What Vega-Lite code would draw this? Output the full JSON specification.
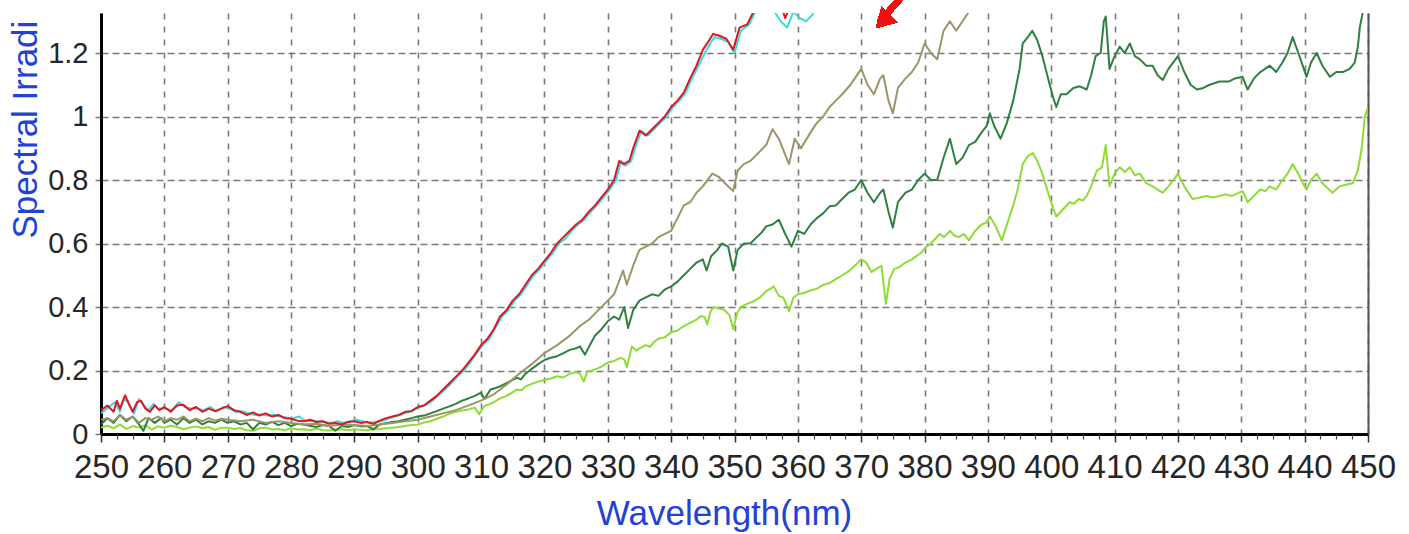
{
"$schema":"https://vega.github.io/schema/vega-lite/v6.json",
"autosize":{"type":"none"},
"padding":{"left":101,"top":13,"right":41,"bottom":100},
"width":1267,"height":421,
"background":"white",
"config":{"view":{"stroke":null}},
"data":{"values":[
{"s":"ltgreen","x":250,"y":0.02},{"s":"ltgreen","x":251,"y":0.026},{"s":"ltgreen","x":252,"y":0.018},{"s":"ltgreen","x":253,"y":0.03},{"s":"ltgreen","x":254,"y":0.016},{"s":"ltgreen","x":255,"y":0.025},{"s":"ltgreen","x":256,"y":0.02},{"s":"ltgreen","x":257,"y":0.028},{"s":"ltgreen","x":258,"y":0.014},{"s":"ltgreen","x":259,"y":0.024},{"s":"ltgreen","x":260,"y":0.02},{"s":"ltgreen","x":261,"y":0.026},{"s":"ltgreen","x":262,"y":0.022},{"s":"ltgreen","x":263,"y":0.015},{"s":"ltgreen","x":264,"y":0.02},{"s":"ltgreen","x":265,"y":0.024},{"s":"ltgreen","x":266,"y":0.018},{"s":"ltgreen","x":267,"y":0.022},{"s":"ltgreen","x":268,"y":0.013},{"s":"ltgreen","x":269,"y":0.02},{"s":"ltgreen","x":270,"y":0.02},{"s":"ltgreen","x":271,"y":0.016},{"s":"ltgreen","x":272,"y":0.019},{"s":"ltgreen","x":273,"y":0.012},{"s":"ltgreen","x":274,"y":0.01},{"s":"ltgreen","x":275,"y":0.018},{"s":"ltgreen","x":276,"y":0.02},{"s":"ltgreen","x":277,"y":0.014},{"s":"ltgreen","x":278,"y":0.016},{"s":"ltgreen","x":279,"y":0.012},{"s":"ltgreen","x":280,"y":0.018},{"s":"ltgreen","x":281,"y":0.014},{"s":"ltgreen","x":282,"y":0.015},{"s":"ltgreen","x":283,"y":0.012},{"s":"ltgreen","x":284,"y":0.017},{"s":"ltgreen","x":285,"y":0.012},{"s":"ltgreen","x":286,"y":0.011},{"s":"ltgreen","x":287,"y":0.014},{"s":"ltgreen","x":288,"y":0.015},{"s":"ltgreen","x":289,"y":0.012},{"s":"ltgreen","x":290,"y":0.015},{"s":"ltgreen","x":291,"y":0.013},{"s":"ltgreen","x":292,"y":0.012},{"s":"ltgreen","x":293,"y":0.014},{"s":"ltgreen","x":294,"y":0.016},{"s":"ltgreen","x":295,"y":0.018},{"s":"ltgreen","x":296,"y":0.02},{"s":"ltgreen","x":297,"y":0.022},{"s":"ltgreen","x":298,"y":0.025},{"s":"ltgreen","x":299,"y":0.028},
{"s":"ltgreen","x":300,"y":0.03},{"s":"ltgreen","x":301,"y":0.036},{"s":"ltgreen","x":302,"y":0.04},{"s":"ltgreen","x":303,"y":0.048},{"s":"ltgreen","x":304,"y":0.055},{"s":"ltgreen","x":305,"y":0.064},{"s":"ltgreen","x":306,"y":0.07},{"s":"ltgreen","x":307,"y":0.074},{"s":"ltgreen","x":308,"y":0.077},{"s":"ltgreen","x":309,"y":0.083},{"s":"ltgreen","x":309.7,"y":0.062},{"s":"ltgreen","x":310.5,"y":0.088},{"s":"ltgreen","x":311.3,"y":0.094},{"s":"ltgreen","x":312,"y":0.1},{"s":"ltgreen","x":313,"y":0.112},{"s":"ltgreen","x":314,"y":0.12},{"s":"ltgreen","x":315,"y":0.132},{"s":"ltgreen","x":315.6,"y":0.14},{"s":"ltgreen","x":316.4,"y":0.138},{"s":"ltgreen","x":317,"y":0.15},{"s":"ltgreen","x":318,"y":0.158},{"s":"ltgreen","x":319,"y":0.165},{"s":"ltgreen","x":320,"y":0.17},{"s":"ltgreen","x":321,"y":0.175},{"s":"ltgreen","x":322,"y":0.182},{"s":"ltgreen","x":323,"y":0.178},{"s":"ltgreen","x":324,"y":0.19},{"s":"ltgreen","x":325,"y":0.195},{"s":"ltgreen","x":325.6,"y":0.19},{"s":"ltgreen","x":326.2,"y":0.165},{"s":"ltgreen","x":326.8,"y":0.198},{"s":"ltgreen","x":327.5,"y":0.2},{"s":"ltgreen","x":328.3,"y":0.206},{"s":"ltgreen","x":329,"y":0.212},{"s":"ltgreen","x":330,"y":0.225},{"s":"ltgreen","x":331,"y":0.23},{"s":"ltgreen","x":332,"y":0.24},{"s":"ltgreen","x":332.6,"y":0.235},{"s":"ltgreen","x":333,"y":0.21},{"s":"ltgreen","x":333.8,"y":0.276},{"s":"ltgreen","x":334.5,"y":0.262},{"s":"ltgreen","x":335,"y":0.27},{"s":"ltgreen","x":336,"y":0.28},{"s":"ltgreen","x":336.7,"y":0.275},{"s":"ltgreen","x":337.3,"y":0.29},{"s":"ltgreen","x":338,"y":0.3},{"s":"ltgreen","x":339,"y":0.305},{"s":"ltgreen","x":340,"y":0.32},{"s":"ltgreen","x":341,"y":0.326},{"s":"ltgreen","x":342,"y":0.34},{"s":"ltgreen","x":343,"y":0.35},{"s":"ltgreen","x":344,"y":0.36},{"s":"ltgreen","x":344.7,"y":0.372},{"s":"ltgreen","x":345.3,"y":0.368},{"s":"ltgreen","x":345.7,"y":0.345},{"s":"ltgreen","x":346.2,"y":0.385},{"s":"ltgreen","x":346.7,"y":0.4},{"s":"ltgreen","x":347.5,"y":0.395},{"s":"ltgreen","x":348.3,"y":0.392},{"s":"ltgreen","x":349.2,"y":0.375},{"s":"ltgreen","x":349.8,"y":0.33},{"s":"ltgreen","x":350.4,"y":0.38},{"s":"ltgreen","x":351,"y":0.4},{"s":"ltgreen","x":352,"y":0.41},{"s":"ltgreen","x":353,"y":0.418},{"s":"ltgreen","x":354,"y":0.43},{"s":"ltgreen","x":355,"y":0.45},{"s":"ltgreen","x":355.7,"y":0.458},{"s":"ltgreen","x":356.2,"y":0.465},{"s":"ltgreen","x":357,"y":0.435},{"s":"ltgreen","x":357.7,"y":0.43},{"s":"ltgreen","x":358.6,"y":0.386},{"s":"ltgreen","x":359.3,"y":0.43},{"s":"ltgreen","x":360,"y":0.44},{"s":"ltgreen","x":361,"y":0.445},{"s":"ltgreen","x":362,"y":0.452},{"s":"ltgreen","x":363,"y":0.458},{"s":"ltgreen","x":364,"y":0.47},{"s":"ltgreen","x":365,"y":0.475},{"s":"ltgreen","x":366,"y":0.488},{"s":"ltgreen","x":367,"y":0.5},{"s":"ltgreen","x":368,"y":0.512},{"s":"ltgreen","x":369,"y":0.53},{"s":"ltgreen","x":370,"y":0.55},{"s":"ltgreen","x":370.8,"y":0.54},{"s":"ltgreen","x":371.6,"y":0.51},{"s":"ltgreen","x":372.4,"y":0.52},{"s":"ltgreen","x":373.2,"y":0.53},{"s":"ltgreen","x":373.9,"y":0.41},{"s":"ltgreen","x":374.5,"y":0.49},{"s":"ltgreen","x":375.2,"y":0.52},{"s":"ltgreen","x":376,"y":0.525},{"s":"ltgreen","x":377,"y":0.54},{"s":"ltgreen","x":378,"y":0.55},{"s":"ltgreen","x":379.4,"y":0.57},{"s":"ltgreen","x":380.3,"y":0.59},{"s":"ltgreen","x":381,"y":0.6},{"s":"ltgreen","x":381.7,"y":0.615},{"s":"ltgreen","x":382.4,"y":0.63},{"s":"ltgreen","x":383.1,"y":0.62},{"s":"ltgreen","x":384,"y":0.64},{"s":"ltgreen","x":384.7,"y":0.625},{"s":"ltgreen","x":385.4,"y":0.62},{"s":"ltgreen","x":386.2,"y":0.63},{"s":"ltgreen","x":387,"y":0.61},{"s":"ltgreen","x":388,"y":0.64},{"s":"ltgreen","x":389,"y":0.66},{"s":"ltgreen","x":389.7,"y":0.665},{"s":"ltgreen","x":390.3,"y":0.685},{"s":"ltgreen","x":391.2,"y":0.655},{"s":"ltgreen","x":392.2,"y":0.61},{"s":"ltgreen","x":393,"y":0.66},{"s":"ltgreen","x":394,"y":0.72},{"s":"ltgreen","x":394.7,"y":0.77},{"s":"ltgreen","x":395.5,"y":0.85},{"s":"ltgreen","x":396.3,"y":0.875},{"s":"ltgreen","x":397.1,"y":0.885},{"s":"ltgreen","x":397.8,"y":0.86},{"s":"ltgreen","x":398.6,"y":0.82},{"s":"ltgreen","x":399.5,"y":0.76},{"s":"ltgreen","x":400.3,"y":0.71},{"s":"ltgreen","x":400.8,"y":0.685},{"s":"ltgreen","x":401.5,"y":0.7},{"s":"ltgreen","x":402.2,"y":0.715},{"s":"ltgreen","x":402.9,"y":0.73},{"s":"ltgreen","x":403.6,"y":0.725},{"s":"ltgreen","x":404.3,"y":0.74},{"s":"ltgreen","x":405,"y":0.735},{"s":"ltgreen","x":405.6,"y":0.75},{"s":"ltgreen","x":406.3,"y":0.78},{"s":"ltgreen","x":407.2,"y":0.83},{"s":"ltgreen","x":408,"y":0.84},{"s":"ltgreen","x":408.6,"y":0.91},{"s":"ltgreen","x":409.2,"y":0.78},{"s":"ltgreen","x":410,"y":0.82},{"s":"ltgreen","x":410.8,"y":0.84},{"s":"ltgreen","x":411.6,"y":0.825},{"s":"ltgreen","x":412.4,"y":0.84},{"s":"ltgreen","x":413.2,"y":0.815},{"s":"ltgreen","x":414,"y":0.82},{"s":"ltgreen","x":415,"y":0.79},{"s":"ltgreen","x":416,"y":0.78},{"s":"ltgreen","x":416.8,"y":0.77},{"s":"ltgreen","x":417.6,"y":0.76},{"s":"ltgreen","x":418.5,"y":0.78},{"s":"ltgreen","x":419.3,"y":0.8},{"s":"ltgreen","x":420,"y":0.82},{"s":"ltgreen","x":421,"y":0.78},{"s":"ltgreen","x":422.3,"y":0.74},{"s":"ltgreen","x":423.5,"y":0.745},{"s":"ltgreen","x":424.5,"y":0.75},{"s":"ltgreen","x":425.5,"y":0.745},{"s":"ltgreen","x":426.6,"y":0.75},{"s":"ltgreen","x":427.5,"y":0.755},{"s":"ltgreen","x":428.5,"y":0.75},{"s":"ltgreen","x":429.4,"y":0.758},{"s":"ltgreen","x":430.2,"y":0.765},{"s":"ltgreen","x":431,"y":0.73},{"s":"ltgreen","x":432,"y":0.75},{"s":"ltgreen","x":433,"y":0.77},{"s":"ltgreen","x":433.8,"y":0.765},{"s":"ltgreen","x":434.5,"y":0.78},{"s":"ltgreen","x":435.5,"y":0.77},{"s":"ltgreen","x":436.5,"y":0.8},{"s":"ltgreen","x":437.3,"y":0.82},{"s":"ltgreen","x":438.1,"y":0.85},{"s":"ltgreen","x":439,"y":0.82},{"s":"ltgreen","x":439.7,"y":0.79},{"s":"ltgreen","x":440.3,"y":0.77},{"s":"ltgreen","x":441,"y":0.8},{"s":"ltgreen","x":441.9,"y":0.82},{"s":"ltgreen","x":442.8,"y":0.79},{"s":"ltgreen","x":443.6,"y":0.775},{"s":"ltgreen","x":444.4,"y":0.76},{"s":"ltgreen","x":445.5,"y":0.78},{"s":"ltgreen","x":446.5,"y":0.785},{"s":"ltgreen","x":447.6,"y":0.79},{"s":"ltgreen","x":448.4,"y":0.83},{"s":"ltgreen","x":449,"y":0.9},{"s":"ltgreen","x":449.5,"y":1.0},{"s":"ltgreen","x":450,"y":1.03},
{"s":"dkgreen","x":250,"y":0.03},{"s":"dkgreen","x":251,"y":0.05},{"s":"dkgreen","x":252,"y":0.035},{"s":"dkgreen","x":253,"y":0.06},{"s":"dkgreen","x":254,"y":0.04},{"s":"dkgreen","x":255,"y":0.055},{"s":"dkgreen","x":256,"y":0.03},{"s":"dkgreen","x":256.7,"y":0.01},{"s":"dkgreen","x":257.5,"y":0.05},{"s":"dkgreen","x":258.5,"y":0.035},{"s":"dkgreen","x":259.5,"y":0.05},{"s":"dkgreen","x":260,"y":0.035},{"s":"dkgreen","x":261,"y":0.045},{"s":"dkgreen","x":262,"y":0.03},{"s":"dkgreen","x":263,"y":0.05},{"s":"dkgreen","x":264,"y":0.035},{"s":"dkgreen","x":265,"y":0.045},{"s":"dkgreen","x":266,"y":0.03},{"s":"dkgreen","x":267,"y":0.04},{"s":"dkgreen","x":268,"y":0.035},{"s":"dkgreen","x":269,"y":0.045},{"s":"dkgreen","x":270,"y":0.035},{"s":"dkgreen","x":271,"y":0.04},{"s":"dkgreen","x":272,"y":0.03},{"s":"dkgreen","x":273,"y":0.035},{"s":"dkgreen","x":274,"y":0.015},{"s":"dkgreen","x":275,"y":0.035},{"s":"dkgreen","x":276,"y":0.03},{"s":"dkgreen","x":277,"y":0.038},{"s":"dkgreen","x":278,"y":0.028},{"s":"dkgreen","x":279,"y":0.035},{"s":"dkgreen","x":280,"y":0.025},{"s":"dkgreen","x":281,"y":0.032},{"s":"dkgreen","x":282,"y":0.03},{"s":"dkgreen","x":283,"y":0.026},{"s":"dkgreen","x":284,"y":0.022},{"s":"dkgreen","x":285,"y":0.028},{"s":"dkgreen","x":286,"y":0.025},{"s":"dkgreen","x":287,"y":0.01},{"s":"dkgreen","x":288,"y":0.025},{"s":"dkgreen","x":289,"y":0.022},{"s":"dkgreen","x":290,"y":0.028},{"s":"dkgreen","x":291,"y":0.024},{"s":"dkgreen","x":292,"y":0.025},{"s":"dkgreen","x":293,"y":0.015},{"s":"dkgreen","x":294,"y":0.03},{"s":"dkgreen","x":295,"y":0.034},{"s":"dkgreen","x":296,"y":0.038},{"s":"dkgreen","x":297,"y":0.04},{"s":"dkgreen","x":298,"y":0.045},{"s":"dkgreen","x":299,"y":0.05},{"s":"dkgreen","x":300,"y":0.055},{"s":"dkgreen","x":301,"y":0.058},{"s":"dkgreen","x":302,"y":0.065},{"s":"dkgreen","x":303,"y":0.072},{"s":"dkgreen","x":304,"y":0.08},{"s":"dkgreen","x":305,"y":0.087},{"s":"dkgreen","x":306,"y":0.095},{"s":"dkgreen","x":307,"y":0.105},{"s":"dkgreen","x":308,"y":0.112},{"s":"dkgreen","x":309,"y":0.12},{"s":"dkgreen","x":310,"y":0.13},{"s":"dkgreen","x":310.5,"y":0.11},{"s":"dkgreen","x":311.5,"y":0.14},{"s":"dkgreen","x":312.3,"y":0.145},{"s":"dkgreen","x":313,"y":0.15},{"s":"dkgreen","x":314,"y":0.16},{"s":"dkgreen","x":315.6,"y":0.177},{"s":"dkgreen","x":316.3,"y":0.172},{"s":"dkgreen","x":317,"y":0.19},{"s":"dkgreen","x":318,"y":0.205},{"s":"dkgreen","x":319,"y":0.22},{"s":"dkgreen","x":320,"y":0.233},{"s":"dkgreen","x":321,"y":0.24},{"s":"dkgreen","x":322,"y":0.245},{"s":"dkgreen","x":323,"y":0.255},{"s":"dkgreen","x":324,"y":0.265},{"s":"dkgreen","x":325,"y":0.27},{"s":"dkgreen","x":325.6,"y":0.276},{"s":"dkgreen","x":326.4,"y":0.25},{"s":"dkgreen","x":327.3,"y":0.285},{"s":"dkgreen","x":328,"y":0.31},{"s":"dkgreen","x":329,"y":0.33},{"s":"dkgreen","x":330,"y":0.355},{"s":"dkgreen","x":331,"y":0.37},{"s":"dkgreen","x":331.8,"y":0.36},{"s":"dkgreen","x":332.6,"y":0.4},{"s":"dkgreen","x":333.2,"y":0.334},{"s":"dkgreen","x":334,"y":0.39},{"s":"dkgreen","x":335,"y":0.42},{"s":"dkgreen","x":336,"y":0.43},{"s":"dkgreen","x":337,"y":0.44},{"s":"dkgreen","x":338,"y":0.435},{"s":"dkgreen","x":339,"y":0.455},{"s":"dkgreen","x":340,"y":0.465},{"s":"dkgreen","x":341,"y":0.48},{"s":"dkgreen","x":342,"y":0.5},{"s":"dkgreen","x":343,"y":0.52},{"s":"dkgreen","x":344,"y":0.54},{"s":"dkgreen","x":345,"y":0.55},{"s":"dkgreen","x":345.6,"y":0.515},{"s":"dkgreen","x":346.3,"y":0.56},{"s":"dkgreen","x":347.3,"y":0.58},{"s":"dkgreen","x":348,"y":0.6},{"s":"dkgreen","x":349,"y":0.59},{"s":"dkgreen","x":349.8,"y":0.515},{"s":"dkgreen","x":350.5,"y":0.58},{"s":"dkgreen","x":351.5,"y":0.6},{"s":"dkgreen","x":352.5,"y":0.6},{"s":"dkgreen","x":353.5,"y":0.62},{"s":"dkgreen","x":354.3,"y":0.635},{"s":"dkgreen","x":355,"y":0.654},{"s":"dkgreen","x":356,"y":0.66},{"s":"dkgreen","x":357,"y":0.675},{"s":"dkgreen","x":358,"y":0.63},{"s":"dkgreen","x":359,"y":0.59},{"s":"dkgreen","x":360,"y":0.64},{"s":"dkgreen","x":361,"y":0.63},{"s":"dkgreen","x":362,"y":0.66},{"s":"dkgreen","x":363,"y":0.68},{"s":"dkgreen","x":364,"y":0.695},{"s":"dkgreen","x":365,"y":0.717},{"s":"dkgreen","x":366,"y":0.72},{"s":"dkgreen","x":367,"y":0.74},{"s":"dkgreen","x":368,"y":0.76},{"s":"dkgreen","x":369,"y":0.77},{"s":"dkgreen","x":370,"y":0.8},{"s":"dkgreen","x":371,"y":0.76},{"s":"dkgreen","x":372,"y":0.73},{"s":"dkgreen","x":373,"y":0.76},{"s":"dkgreen","x":373.5,"y":0.77},{"s":"dkgreen","x":374.3,"y":0.7},{"s":"dkgreen","x":375,"y":0.65},{"s":"dkgreen","x":375.8,"y":0.73},{"s":"dkgreen","x":377,"y":0.76},{"s":"dkgreen","x":378,"y":0.77},{"s":"dkgreen","x":379,"y":0.8},{"s":"dkgreen","x":380,"y":0.82},{"s":"dkgreen","x":381,"y":0.8},{"s":"dkgreen","x":382,"y":0.8},{"s":"dkgreen","x":383,"y":0.87},{"s":"dkgreen","x":384,"y":0.93},{"s":"dkgreen","x":385,"y":0.85},{"s":"dkgreen","x":386,"y":0.87},{"s":"dkgreen","x":387,"y":0.91},{"s":"dkgreen","x":388,"y":0.92},{"s":"dkgreen","x":389,"y":0.95},{"s":"dkgreen","x":389.8,"y":0.97},{"s":"dkgreen","x":390.3,"y":1.01},{"s":"dkgreen","x":391,"y":0.97},{"s":"dkgreen","x":392,"y":0.93},{"s":"dkgreen","x":393,"y":0.98},{"s":"dkgreen","x":394,"y":1.05},{"s":"dkgreen","x":395,"y":1.15},{"s":"dkgreen","x":395.5,"y":1.23},{"s":"dkgreen","x":396.3,"y":1.25},{"s":"dkgreen","x":397,"y":1.27},{"s":"dkgreen","x":397.8,"y":1.24},{"s":"dkgreen","x":398.6,"y":1.19},{"s":"dkgreen","x":399.5,"y":1.12},{"s":"dkgreen","x":400.3,"y":1.06},{"s":"dkgreen","x":400.8,"y":1.03},{"s":"dkgreen","x":401.5,"y":1.07},{"s":"dkgreen","x":402.4,"y":1.07},{"s":"dkgreen","x":403.5,"y":1.09},{"s":"dkgreen","x":404.5,"y":1.095},{"s":"dkgreen","x":405.6,"y":1.085},{"s":"dkgreen","x":406.3,"y":1.13},{"s":"dkgreen","x":407,"y":1.19},{"s":"dkgreen","x":407.8,"y":1.2},{"s":"dkgreen","x":408.3,"y":1.3},{"s":"dkgreen","x":408.6,"y":1.315},{"s":"dkgreen","x":409.2,"y":1.15},{"s":"dkgreen","x":410,"y":1.19},{"s":"dkgreen","x":410.8,"y":1.22},{"s":"dkgreen","x":411.6,"y":1.2},{"s":"dkgreen","x":412.4,"y":1.23},{"s":"dkgreen","x":413.2,"y":1.19},{"s":"dkgreen","x":414,"y":1.18},{"s":"dkgreen","x":415,"y":1.16},{"s":"dkgreen","x":416,"y":1.16},{"s":"dkgreen","x":416.8,"y":1.13},{"s":"dkgreen","x":417.6,"y":1.115},{"s":"dkgreen","x":418.5,"y":1.15},{"s":"dkgreen","x":420,"y":1.19},{"s":"dkgreen","x":421,"y":1.14},{"s":"dkgreen","x":422,"y":1.1},{"s":"dkgreen","x":423,"y":1.085},{"s":"dkgreen","x":424,"y":1.09},{"s":"dkgreen","x":425,"y":1.1},{"s":"dkgreen","x":426.6,"y":1.11},{"s":"dkgreen","x":428,"y":1.11},{"s":"dkgreen","x":429,"y":1.12},{"s":"dkgreen","x":430.2,"y":1.125},{"s":"dkgreen","x":431,"y":1.085},{"s":"dkgreen","x":432,"y":1.12},{"s":"dkgreen","x":433,"y":1.14},{"s":"dkgreen","x":434.5,"y":1.16},{"s":"dkgreen","x":435.5,"y":1.14},{"s":"dkgreen","x":436.5,"y":1.17},{"s":"dkgreen","x":437.3,"y":1.2},{"s":"dkgreen","x":438.1,"y":1.25},{"s":"dkgreen","x":439,"y":1.2},{"s":"dkgreen","x":439.7,"y":1.16},{"s":"dkgreen","x":440.3,"y":1.125},{"s":"dkgreen","x":441,"y":1.17},{"s":"dkgreen","x":441.9,"y":1.2},{"s":"dkgreen","x":442.8,"y":1.16},{"s":"dkgreen","x":444,"y":1.125},{"s":"dkgreen","x":445,"y":1.14},{"s":"dkgreen","x":446,"y":1.14},{"s":"dkgreen","x":447.1,"y":1.15},{"s":"dkgreen","x":447.9,"y":1.17},{"s":"dkgreen","x":448.4,"y":1.22},{"s":"dkgreen","x":448.7,"y":1.28},{"s":"dkgreen","x":449.2,"y":1.33},{"s":"dkgreen","x":449.6,"y":1.4},{"s":"dkgreen","x":450,"y":1.5},
{"s":"olive","x":250,"y":0.045},{"s":"olive","x":251,"y":0.05},{"s":"olive","x":252,"y":0.04},{"s":"olive","x":253,"y":0.06},{"s":"olive","x":254,"y":0.045},{"s":"olive","x":255,"y":0.055},{"s":"olive","x":256,"y":0.035},{"s":"olive","x":257,"y":0.05},{"s":"olive","x":258,"y":0.045},{"s":"olive","x":259,"y":0.055},{"s":"olive","x":260,"y":0.04},{"s":"olive","x":261,"y":0.05},{"s":"olive","x":262,"y":0.045},{"s":"olive","x":263,"y":0.055},{"s":"olive","x":264,"y":0.04},{"s":"olive","x":265,"y":0.048},{"s":"olive","x":266,"y":0.04},{"s":"olive","x":267,"y":0.05},{"s":"olive","x":268,"y":0.042},{"s":"olive","x":269,"y":0.048},{"s":"olive","x":270,"y":0.045},{"s":"olive","x":272,"y":0.04},{"s":"olive","x":274,"y":0.045},{"s":"olive","x":276,"y":0.035},{"s":"olive","x":278,"y":0.04},{"s":"olive","x":280,"y":0.035},{"s":"olive","x":282,"y":0.03},{"s":"olive","x":284,"y":0.032},{"s":"olive","x":286,"y":0.025},{"s":"olive","x":288,"y":0.03},{"s":"olive","x":290,"y":0.028},{"s":"olive","x":292,"y":0.025},{"s":"olive","x":294,"y":0.03},{"s":"olive","x":296,"y":0.035},{"s":"olive","x":298,"y":0.04},{"s":"olive","x":300,"y":0.045},{"s":"olive","x":302,"y":0.055},{"s":"olive","x":304,"y":0.065},{"s":"olive","x":306,"y":0.075},{"s":"olive","x":308,"y":0.09},{"s":"olive","x":310,"y":0.105},{"s":"olive","x":312,"y":0.125},{"s":"olive","x":314,"y":0.155},{"s":"olive","x":316,"y":0.19},{"s":"olive","x":318,"y":0.22},{"s":"olive","x":320,"y":0.255},{"s":"olive","x":322,"y":0.28},{"s":"olive","x":324,"y":0.31},{"s":"olive","x":325.6,"y":0.34},{"s":"olive","x":327,"y":0.36},{"s":"olive","x":328,"y":0.38},{"s":"olive","x":329,"y":0.4},{"s":"olive","x":330,"y":0.42},{"s":"olive","x":331,"y":0.44},{"s":"olive","x":332.4,"y":0.515},{"s":"olive","x":333,"y":0.47},{"s":"olive","x":334,"y":0.53},{"s":"olive","x":335,"y":0.58},{"s":"olive","x":336,"y":0.59},{"s":"olive","x":337,"y":0.6},{"s":"olive","x":338,"y":0.62},{"s":"olive","x":339,"y":0.63},{"s":"olive","x":340,"y":0.64},{"s":"olive","x":341,"y":0.68},{"s":"olive","x":342,"y":0.72},{"s":"olive","x":343,"y":0.73},{"s":"olive","x":344,"y":0.76},{"s":"olive","x":345,"y":0.78},{"s":"olive","x":346.5,"y":0.82},{"s":"olive","x":347.5,"y":0.81},{"s":"olive","x":348.5,"y":0.79},{"s":"olive","x":349.8,"y":0.765},{"s":"olive","x":350.5,"y":0.83},{"s":"olive","x":351.5,"y":0.85},{"s":"olive","x":352.5,"y":0.86},{"s":"olive","x":353.5,"y":0.88},{"s":"olive","x":355,"y":0.91},{"s":"olive","x":356,"y":0.96},{"s":"olive","x":357,"y":0.93},{"s":"olive","x":358,"y":0.88},{"s":"olive","x":358.6,"y":0.85},{"s":"olive","x":359.5,"y":0.93},{"s":"olive","x":360.5,"y":0.9},{"s":"olive","x":362,"y":0.95},{"s":"olive","x":363,"y":0.98},{"s":"olive","x":364,"y":1.0},{"s":"olive","x":365,"y":1.03},{"s":"olive","x":366,"y":1.05},{"s":"olive","x":367,"y":1.07},{"s":"olive","x":368.3,"y":1.1},{"s":"olive","x":369,"y":1.12},{"s":"olive","x":370,"y":1.15},{"s":"olive","x":371,"y":1.1},{"s":"olive","x":372,"y":1.07},{"s":"olive","x":373,"y":1.12},{"s":"olive","x":373.5,"y":1.13},{"s":"olive","x":374.3,"y":1.05},{"s":"olive","x":375,"y":1.01},{"s":"olive","x":375.8,"y":1.09},{"s":"olive","x":377,"y":1.12},{"s":"olive","x":378,"y":1.14},{"s":"olive","x":379,"y":1.17},{"s":"olive","x":380,"y":1.23},{"s":"olive","x":381,"y":1.2},{"s":"olive","x":382,"y":1.18},{"s":"olive","x":383,"y":1.27},{"s":"olive","x":384,"y":1.3},{"s":"olive","x":385,"y":1.27},{"s":"olive","x":386,"y":1.3},{"s":"olive","x":387,"y":1.33},{"s":"olive","x":388,"y":1.36},{"s":"olive","x":390,"y":1.42},{"s":"olive","x":395,"y":1.6},{"s":"olive","x":397,"y":1.8},{"s":"olive","x":400,"y":1.7},{"s":"olive","x":410,"y":1.9},{"s":"olive","x":450,"y":2.2},
{"s":"cyan","x":250,"y":0.065},{"s":"cyan","x":251.2,"y":0.085},{"s":"cyan","x":252.2,"y":0.1},{"s":"cyan","x":253,"y":0.07},{"s":"cyan","x":253.6,"y":0.11},{"s":"cyan","x":254.3,"y":0.1},{"s":"cyan","x":255.2,"y":0.065},{"s":"cyan","x":256,"y":0.11},{"s":"cyan","x":256.8,"y":0.09},{"s":"cyan","x":257.5,"y":0.075},{"s":"cyan","x":258.3,"y":0.095},{"s":"cyan","x":259,"y":0.08},{"s":"cyan","x":260.2,"y":0.08},{"s":"cyan","x":261.2,"y":0.075},{"s":"cyan","x":262.3,"y":0.1},{"s":"cyan","x":263.2,"y":0.085},{"s":"cyan","x":264.2,"y":0.08},{"s":"cyan","x":265.3,"y":0.08},{"s":"cyan","x":266.2,"y":0.075},{"s":"cyan","x":267.3,"y":0.085},{"s":"cyan","x":268.2,"y":0.07},{"s":"cyan","x":269.3,"y":0.085},{"s":"cyan","x":270.3,"y":0.08},{"s":"cyan","x":271.3,"y":0.07},{"s":"cyan","x":272.3,"y":0.072},{"s":"cyan","x":273.3,"y":0.065},{"s":"cyan","x":274.3,"y":0.06},{"s":"cyan","x":275.3,"y":0.062},{"s":"cyan","x":276.3,"y":0.058},{"s":"cyan","x":277.3,"y":0.06},{"s":"cyan","x":278.3,"y":0.055},{"s":"cyan","x":279.3,"y":0.052},{"s":"cyan","x":280.3,"y":0.05},{"s":"cyan","x":281.3,"y":0.055},{"s":"cyan","x":282.3,"y":0.04},{"s":"cyan","x":283.3,"y":0.042},{"s":"cyan","x":284.3,"y":0.04},{"s":"cyan","x":285.3,"y":0.038},{"s":"cyan","x":286.3,"y":0.035},{"s":"cyan","x":287.3,"y":0.04},{"s":"cyan","x":288.3,"y":0.035},{"s":"cyan","x":289.3,"y":0.04},{"s":"cyan","x":290.3,"y":0.045},{"s":"cyan","x":291.3,"y":0.04},{"s":"cyan","x":292.3,"y":0.035},{"s":"cyan","x":293.3,"y":0.038},{"s":"cyan","x":294.3,"y":0.04},{"s":"cyan","x":295.3,"y":0.048},{"s":"cyan","x":296.3,"y":0.055},{"s":"cyan","x":297.3,"y":0.06},{"s":"cyan","x":298.3,"y":0.068},{"s":"cyan","x":299.3,"y":0.075},{"s":"cyan","x":300.3,"y":0.085},{"s":"cyan","x":301.3,"y":0.092},{"s":"cyan","x":302.3,"y":0.105},{"s":"cyan","x":303.3,"y":0.122},{"s":"cyan","x":304.3,"y":0.14},{"s":"cyan","x":305.3,"y":0.16},{"s":"cyan","x":306.3,"y":0.182},{"s":"cyan","x":307.3,"y":0.2},{"s":"cyan","x":308.3,"y":0.225},{"s":"cyan","x":309.3,"y":0.255},{"s":"cyan","x":310.3,"y":0.28},{"s":"cyan","x":311.3,"y":0.3},{"s":"cyan","x":312.3,"y":0.335},{"s":"cyan","x":313.3,"y":0.37},{"s":"cyan","x":314.3,"y":0.39},{"s":"cyan","x":315.3,"y":0.42},{"s":"cyan","x":316.3,"y":0.44},{"s":"cyan","x":317.3,"y":0.47},{"s":"cyan","x":318.3,"y":0.5},{"s":"cyan","x":319.3,"y":0.52},{"s":"cyan","x":320.3,"y":0.545},{"s":"cyan","x":321.3,"y":0.57},{"s":"cyan","x":322.3,"y":0.6},{"s":"cyan","x":323.3,"y":0.615},{"s":"cyan","x":324.3,"y":0.64},{"s":"cyan","x":325.3,"y":0.66},{"s":"cyan","x":326.3,"y":0.675},{"s":"cyan","x":327.3,"y":0.7},{"s":"cyan","x":328.3,"y":0.72},{"s":"cyan","x":329.3,"y":0.745},{"s":"cyan","x":330.3,"y":0.77},{"s":"cyan","x":331.3,"y":0.8},{"s":"cyan","x":332.1,"y":0.86},{"s":"cyan","x":332.8,"y":0.845},{"s":"cyan","x":333.7,"y":0.86},{"s":"cyan","x":334.3,"y":0.9},{"s":"cyan","x":335.3,"y":0.955},{"s":"cyan","x":336.3,"y":0.94},{"s":"cyan","x":337.3,"y":0.96},{"s":"cyan","x":338.3,"y":0.98},{"s":"cyan","x":339.3,"y":1.0},{"s":"cyan","x":340.3,"y":1.03},{"s":"cyan","x":341.3,"y":1.05},{"s":"cyan","x":342.3,"y":1.075},{"s":"cyan","x":343.3,"y":1.12},{"s":"cyan","x":344.3,"y":1.16},{"s":"cyan","x":345.3,"y":1.2},{"s":"cyan","x":346.3,"y":1.235},{"s":"cyan","x":346.9,"y":1.25},{"s":"cyan","x":347.8,"y":1.245},{"s":"cyan","x":349,"y":1.235},{"s":"cyan","x":350,"y":1.2},{"s":"cyan","x":351,"y":1.27},{"s":"cyan","x":352.3,"y":1.29},{"s":"cyan","x":353.3,"y":1.33},{"s":"cyan","x":354.3,"y":1.36},{"s":"cyan","x":355.3,"y":1.37},{"s":"cyan","x":356.3,"y":1.33},{"s":"cyan","x":357.3,"y":1.3},{"s":"cyan","x":358.3,"y":1.28},{"s":"cyan","x":359.3,"y":1.33},{"s":"cyan","x":360.3,"y":1.31},{"s":"cyan","x":361.3,"y":1.3},{"s":"cyan","x":362.3,"y":1.32},{"s":"cyan","x":363.3,"y":1.39},{"s":"cyan","x":365.3,"y":1.45},{"s":"cyan","x":370.3,"y":1.55},{"s":"cyan","x":380,"y":1.75},{"s":"cyan","x":390,"y":1.95},{"s":"cyan","x":400,"y":2.3},{"s":"cyan","x":450,"y":2.8},
{"s":"red","x":250,"y":0.075},{"s":"red","x":251,"y":0.09},{"s":"red","x":252,"y":0.07},{"s":"red","x":252.5,"y":0.105},{"s":"red","x":253,"y":0.08},{"s":"red","x":253.8,"y":0.122},{"s":"red","x":254.5,"y":0.09},{"s":"red","x":255,"y":0.07},{"s":"red","x":255.7,"y":0.1},{"s":"red","x":256.3,"y":0.105},{"s":"red","x":257,"y":0.08},{"s":"red","x":257.7,"y":0.07},{"s":"red","x":258.5,"y":0.09},{"s":"red","x":259.2,"y":0.075},{"s":"red","x":260,"y":0.085},{"s":"red","x":261,"y":0.07},{"s":"red","x":262,"y":0.09},{"s":"red","x":263,"y":0.092},{"s":"red","x":264,"y":0.075},{"s":"red","x":265,"y":0.085},{"s":"red","x":266,"y":0.07},{"s":"red","x":267,"y":0.08},{"s":"red","x":268,"y":0.072},{"s":"red","x":269,"y":0.08},{"s":"red","x":270,"y":0.088},{"s":"red","x":271,"y":0.075},{"s":"red","x":272,"y":0.07},{"s":"red","x":273,"y":0.06},{"s":"red","x":274,"y":0.068},{"s":"red","x":275,"y":0.058},{"s":"red","x":276,"y":0.065},{"s":"red","x":277,"y":0.055},{"s":"red","x":278,"y":0.06},{"s":"red","x":279,"y":0.05},{"s":"red","x":280,"y":0.048},{"s":"red","x":281,"y":0.042},{"s":"red","x":282,"y":0.04},{"s":"red","x":283,"y":0.045},{"s":"red","x":284,"y":0.038},{"s":"red","x":285,"y":0.04},{"s":"red","x":286,"y":0.032},{"s":"red","x":287,"y":0.035},{"s":"red","x":288,"y":0.03},{"s":"red","x":289,"y":0.038},{"s":"red","x":290,"y":0.04},{"s":"red","x":291,"y":0.035},{"s":"red","x":292,"y":0.038},{"s":"red","x":293,"y":0.032},{"s":"red","x":294,"y":0.042},{"s":"red","x":295,"y":0.05},{"s":"red","x":296,"y":0.055},{"s":"red","x":297,"y":0.06},{"s":"red","x":298,"y":0.07},{"s":"red","x":299,"y":0.072},{"s":"red","x":300,"y":0.085},{"s":"red","x":301,"y":0.09},{"s":"red","x":302,"y":0.105},{"s":"red","x":303,"y":0.12},{"s":"red","x":304,"y":0.14},{"s":"red","x":305,"y":0.16},{"s":"red","x":306,"y":0.18},{"s":"red","x":307,"y":0.2},{"s":"red","x":308,"y":0.225},{"s":"red","x":309,"y":0.25},{"s":"red","x":310,"y":0.28},{"s":"red","x":311,"y":0.3},{"s":"red","x":312,"y":0.33},{"s":"red","x":313,"y":0.37},{"s":"red","x":314,"y":0.39},{"s":"red","x":315,"y":0.42},{"s":"red","x":316,"y":0.44},{"s":"red","x":317,"y":0.47},{"s":"red","x":318,"y":0.5},{"s":"red","x":319,"y":0.52},{"s":"red","x":320,"y":0.545},{"s":"red","x":321,"y":0.57},{"s":"red","x":322,"y":0.6},{"s":"red","x":323,"y":0.62},{"s":"red","x":324,"y":0.64},{"s":"red","x":325,"y":0.66},{"s":"red","x":326,"y":0.675},{"s":"red","x":327,"y":0.7},{"s":"red","x":328,"y":0.72},{"s":"red","x":329,"y":0.745},{"s":"red","x":330,"y":0.77},{"s":"red","x":331,"y":0.8},{"s":"red","x":331.8,"y":0.86},{"s":"red","x":332.5,"y":0.85},{"s":"red","x":333.4,"y":0.86},{"s":"red","x":334,"y":0.9},{"s":"red","x":335,"y":0.955},{"s":"red","x":336,"y":0.94},{"s":"red","x":337,"y":0.96},{"s":"red","x":338,"y":0.98},{"s":"red","x":339,"y":1.0},{"s":"red","x":340,"y":1.03},{"s":"red","x":341,"y":1.05},{"s":"red","x":342,"y":1.075},{"s":"red","x":343,"y":1.12},{"s":"red","x":344,"y":1.16},{"s":"red","x":345,"y":1.21},{"s":"red","x":346,"y":1.24},{"s":"red","x":346.6,"y":1.26},{"s":"red","x":347.5,"y":1.255},{"s":"red","x":348.7,"y":1.245},{"s":"red","x":349.8,"y":1.21},{"s":"red","x":350.8,"y":1.28},{"s":"red","x":352,"y":1.29},{"s":"red","x":353,"y":1.33},{"s":"red","x":354,"y":1.36},{"s":"red","x":355,"y":1.38},{"s":"red","x":356,"y":1.35},{"s":"red","x":357,"y":1.37},{"s":"red","x":358,"y":1.31},{"s":"red","x":359,"y":1.36},{"s":"red","x":360,"y":1.38},{"s":"red","x":361,"y":1.34},{"s":"red","x":362,"y":1.35},{"s":"red","x":363,"y":1.4},{"s":"red","x":365,"y":1.45},{"s":"red","x":370,"y":1.55},{"s":"red","x":380,"y":1.75},{"s":"red","x":390,"y":1.95},{"s":"red","x":400,"y":2.3},{"s":"red","x":450,"y":2.8}
]},
"layer":[
{"mark":{"type":"line","clip":true,"strokeWidth":2,"strokeJoin":"round"},
"encoding":{
"x":{"field":"x","type":"quantitative","scale":{"domain":[250,450],"nice":false,"zero":false},
"axis":{"orient":"bottom","values":[250,260,270,280,290,300,310,320,330,340,350,360,370,380,390,400,410,420,430,440,450],
"title":"Wavelength(nm)","titleFont":"Liberation Sans, Arial, sans-serif","titleFontSize":35,"titleFontWeight":"normal","titleColor":"#2142d6","titleX":623,"titleY":62,"titleBaseline":"top","titleAnchor":null,"titleAlign":"center",
"labelFont":"Liberation Sans Narrow, Arial Narrow, sans-serif","labelFontSize":33,"labelColor":"#262626","labelPadding":9,"labelFlush":false,"labelOverlap":false,
"domainColor":"#000000","domainWidth":3,"tickColor":"#333333","tickSize":8,"tickWidth":1.5,
"grid":true,"gridColor":"#7a7a7a","gridDash":[6,7],"gridWidth":1.6}},
"y":{"field":"y","type":"quantitative","scale":{"domain":[0,1.326],"nice":false,"zero":true},
"axis":{"orient":"left","values":[0,0.2,0.4,0.6,0.8,1,1.2],"format":".1~f",
"title":"Spectral Irradi","titleFont":"Liberation Sans, Arial, sans-serif","titleFontSize":35,"titleFontWeight":"normal","titleColor":"#2142d6","titleAngle":270,"titleAlign":"left","titleBaseline":"alphabetic","titleX":-65,"titleY":225,"titleAnchor":null,
"labelFont":"Liberation Sans, Arial, sans-serif","labelFontSize":29,"labelColor":"#262626","labelPadding":7,"labelFlush":false,"labelOverlap":false,
"domainColor":"#000000","domainWidth":3,"tickColor":"#7a7a7a","tickSize":6,"tickWidth":1.5,
"grid":true,"gridColor":"#7a7a7a","gridDash":[7,4],"gridWidth":1.6}},
"color":{"field":"s","type":"nominal","legend":null,
"scale":{"domain":["ltgreen","dkgreen","olive","cyan","red"],"range":["#8edc34","#2f8040","#9a9668","#33dede","#e3141e"]}}
}},
{"mark":{"type":"point","opacity":0},
"encoding":{
"x":{"field":"x","type":"quantitative",
"axis":{"orient":"bottom","values":[252.5,255,257.5,262.5,265,267.5,272.5,275,277.5,282.5,285,287.5,292.5,295,297.5,302.5,305,307.5,312.5,315,317.5,322.5,325,327.5,332.5,335,337.5,342.5,345,347.5,352.5,355,357.5,362.5,365,367.5,372.5,375,377.5,382.5,385,387.5,392.5,395,397.5,402.5,405,407.5,412.5,415,417.5,422.5,425,427.5,432.5,435,437.5,442.5,445,447.5],
"labels":false,"title":null,"grid":false,"domain":false,"tickColor":"#444444","tickSize":5,"tickWidth":1.2}},
"y":{"field":"y","type":"quantitative",
"axis":{"orient":"right","labels":false,"ticks":false,"title":null,"grid":false,"domain":true,"domainColor":"#555555","domainWidth":2}}
}},
{"mark":{"type":"rule","clip":false,"color":"#ee1111","strokeWidth":6,"strokeCap":"round"},
"encoding":{"x":{"datum":373.0,"axis":null},"y":{"datum":1.3,"axis":null},"x2":{"datum":377.4},"y2":{"datum":1.4}}},
{"mark":{"type":"point","clip":false,"shape":"triangle-down","filled":true,"color":"#ee1111","opacity":1,"size":480,"angle":45},
"encoding":{"x":{"datum":373.4,"axis":null},"y":{"datum":1.3,"axis":null}}}
],
"resolve":{"axis":{"x":"independent","y":"independent"}}
}
